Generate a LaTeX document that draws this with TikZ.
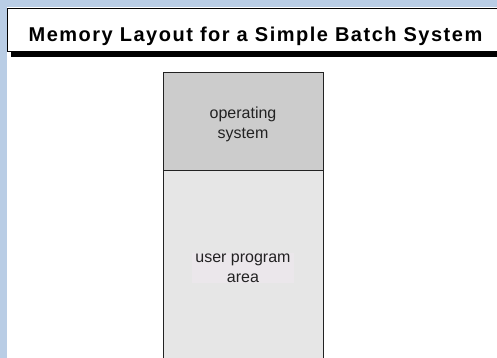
\documentclass[tikz,border=0pt]{standalone}
\usepackage{fontspec}
\setmainfont{Liberation Sans}
\newfontfamily\titlefont[LetterSpace=7.5]{Liberation Sans}
\usepackage{tikz}
\usetikzlibrary{positioning}
\definecolor{slideblue}{HTML}{B9CDE5}
\definecolor{osgray}{HTML}{CCCCCC}
\definecolor{usergray}{HTML}{E6E6E6}
\definecolor{labelgray}{HTML}{EBE7EB}
\definecolor{textgray}{HTML}{222222}

\begin{document}
\begin{tikzpicture}[x=1pt,y=-1pt,every node/.style={inner sep=0pt,outer sep=0pt},
  memblock/.style={draw=textgray,line width=1pt,minimum width=160pt,anchor=north},
  memtext/.style={align=center,text=textgray,font=\fontsize{16}{20}\selectfont}]
  \useasboundingbox (0,0) rectangle (497,358);
  \clip (0,0) rectangle (497,358);
  \fill[slideblue](0,0) rectangle (497,358);
  \fill[white](7,7) rectangle (497,358);

  \node (shadow) at (11,13)[anchor=north west,fill=black,minimum width=497pt,minimum height=44pt]{};
  \node (titlebox) at (7,9)[anchor=north west,draw,fill=white,line width=1pt,minimum width=497pt,minimum height=43pt]{};
  \node (title) at (255.5,42)[anchor=base]{\titlefont\fontsize{20}{24}\selectfont\bfseries Memory Layout for a Simple Batch System};

  \node (os) at (243,73)[memblock,fill=osgray,minimum height=97pt]{};
  \node[below=0pt of os,memblock,fill=usergray,minimum height=194pt](user){};
  \node (ostext) at (os.center)[memtext,yshift=-2.5pt]{operating\\system};
  \node (usertext) at (user.center)[memtext,fill=labelgray,inner xsep=3pt,inner ysep=1pt,yshift=-1pt]{user program\\area};
\end{tikzpicture}
\end{document}
